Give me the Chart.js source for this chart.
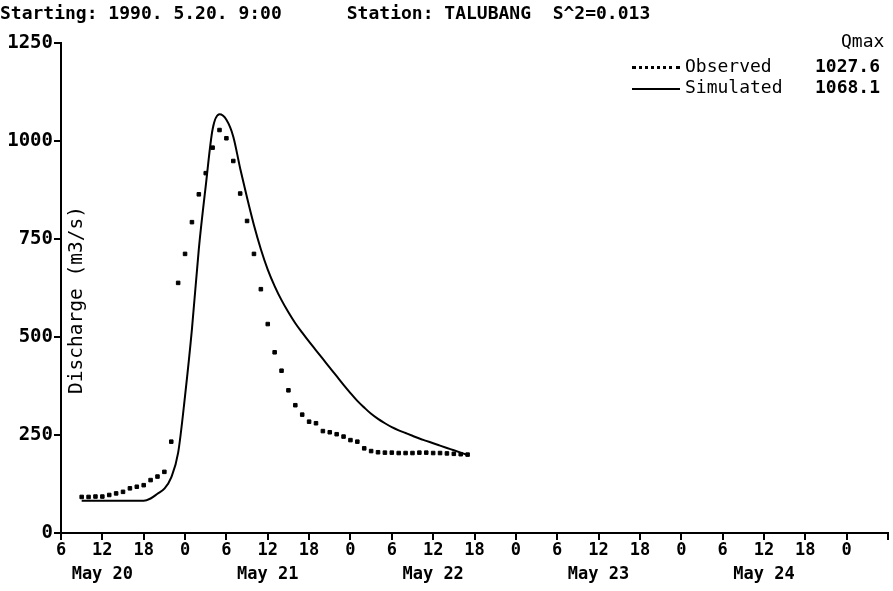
<!DOCTYPE html>
<html>
<head>
<meta charset="utf-8">
<script src="https://cdn.jsdelivr.net/npm/chart.js@4"></script>
<style>
  body { margin: 0; background: #fff; }
  #wrap { position: relative; width: 893px; height: 591px; font-family: 'DejaVu Sans Mono', monospace; color: #000; }
  #title { position: absolute; left: 0; top: 2px; font-size: 18px; font-weight: bold; white-space: pre; }
  .lg { position: absolute; font-size: 18px; white-space: pre; line-height: 20px; }
  .num { font-weight: bold; }
  .swatch { position: absolute; width: 48px; height: 0; }
</style>
</head>
<body>
<div id="wrap">
  <canvas id="flow-chart"></canvas>
  <div id="title"></div>
  <div id="legend"></div>
</div>
<script>
// hours after May 20 06:00 (axis start)
const hours = [3, 4, 5, 6, 7, 8, 9, 10, 11, 12, 13, 14, 15, 16, 17, 18, 19, 20, 21, 22,
  23, 24, 25, 26, 27, 28, 29, 30, 31, 32, 33, 34, 35, 36, 37, 38, 39, 40, 41, 42,
  43, 44, 45, 46, 47, 48, 49, 50, 51, 52, 53, 54, 55, 56, 57, 58, 59];

const observed = [92, 92, 93, 93, 97, 101, 105, 114, 118, 122, 135, 144, 156, 233, 638, 712, 793, 864, 918, 983,
  1028, 1007, 949, 866, 796, 712, 622, 533, 461, 414, 364, 326, 302, 284, 280, 260, 257, 252, 246, 237,
  233, 216, 209, 206, 205, 205, 204, 204, 204, 205, 205, 204, 204, 203, 202, 201, 200];

const simulated = [82, 82, 82, 82, 82, 82, 82, 82, 82, 82, 88, 100, 113, 142, 205, 350, 520, 725, 885, 1030,
  1068, 1054, 1011, 930, 855, 785, 724, 672, 630, 594, 563, 535, 511, 488, 466, 444, 422, 400, 378, 357,
  337, 320, 304, 291, 280, 270, 262, 255, 248, 241, 235, 229, 223, 217, 211, 205, 199];

const seriesNames = ["Observed", "Simulated"];
const qmax = ["1027.6", "1068.1"];
const dayLabels = ["May 20", "May 21", "May 22", "May 23", "May 24"];
const yTicks = [0, 250, 500, 750, 1000, 1250];
const titleText = "Starting: 1990. 5.20. 9:00      Station: TALUBANG  S^2=0.013";
const yTitle = "Discharge (m3/s)";

const monoFont = "'DejaVu Sans Mono', monospace";

document.getElementById('title').textContent = titleText;

// legend with Qmax column
const legend = document.getElementById('legend');
legend.innerHTML = `
  <div class="lg" style="left:841px; top:31px;">Qmax</div>
  <div class="swatch" style="left:632px; top:66px; border-top:3px dotted #000;"></div>
  <div class="lg" style="left:685px; top:56px;">${seriesNames[0]}</div>
  <div class="lg num" style="left:815px; top:56px;">${qmax[0]}</div>
  <div class="swatch" style="left:632px; top:88px; border-top:2px solid #000;"></div>
  <div class="lg" style="left:685px; top:77px;">${seriesNames[1]}</div>
  <div class="lg num" style="left:815px; top:77px;">${qmax[1]}</div>
`;

const toPoints = (xs, ys) => xs.map((x, i) => ({ x: x, y: ys[i] }));

// axis title sits inside the plot, right of the y axis
const yTitlePlugin = {
  id: 'yTitleInside',
  afterDraw(chart) {
    const ctx = chart.ctx;
    ctx.save();
    ctx.translate(chart.chartArea.left + 16, 300);
    ctx.rotate(-Math.PI / 2);
    ctx.font = "19.5px " + monoFont;
    ctx.fillStyle = '#000';
    ctx.textAlign = 'center';
    ctx.textBaseline = 'middle';
    ctx.fillText(yTitle, 0, 0);
    ctx.restore();
  }
};

const flowChart = new Chart(document.getElementById('flow-chart'), {
  type: 'line',
  data: {
    datasets: [{
      label: seriesNames[0],
      data: toPoints(hours, observed),
      showLine: false,
      pointStyle: 'rect',
      pointRadius: 2.5,
      pointBorderWidth: 1,
      pointBackgroundColor: '#000',
      pointBorderColor: '#000'
    }, {
      label: seriesNames[1],
      data: toPoints(hours, simulated),
      borderColor: '#000',
      borderWidth: 2,
      pointRadius: 0,
      cubicInterpolationMode: 'monotone'
    }]
  },
  options: {
    responsive: true,
    maintainAspectRatio: false,
    animation: false,
    layout: {
      padding: { top: 43, right: 1, left: 0, bottom: 0 }
    },
    scales: {
      x: {
        type: 'linear',
        min: 0,
        max: 120,
        afterFit: (s) => { s.height = 58; },
        border: { display: true, color: '#000', width: 2 },
        grid: { drawOnChartArea: false, drawTicks: true, tickLength: 7, color: '#000', lineWidth: 2 },
        ticks: {
          stepSize: 6,
          autoSkip: false,
          maxRotation: 0,
          padding: -2,
          color: '#000',
          font: { family: monoFont, size: 17, weight: 'bold', lineHeight: 1.45 },
          callback: (v) => {
            if (v >= 120) return '';
            const hr = (v + 6) % 24;
            if (hr === 12) return [String(hr), dayLabels[Math.floor((v + 6) / 24)]];
            return String(hr);
          }
        }
      },
      y: {
        min: 0,
        max: 1250,
        afterFit: (s) => { s.width = 61; },
        afterBuildTicks: (s) => { s.ticks = yTicks.map(v => ({ value: v })); },
        border: { display: true, color: '#000', width: 2 },
        grid: { drawOnChartArea: false, drawTicks: true, tickLength: 7, color: '#000', lineWidth: 2 },
        ticks: {
          padding: 1,
          color: '#000',
          font: { family: monoFont, size: 19, weight: 'bold' },
          callback: (v) => String(v)
        }
      }
    },
    plugins: {
      legend: { display: false },
      tooltip: { enabled: false }
    }
  },
  plugins: [yTitlePlugin]
});
</script>
</body>
</html>
